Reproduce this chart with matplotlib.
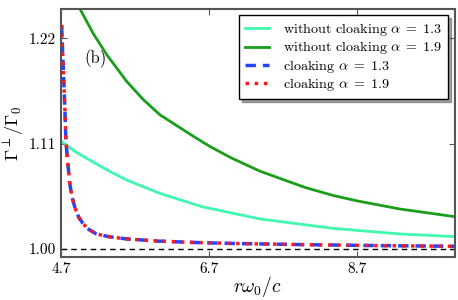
import matplotlib
matplotlib.use("Agg")
import matplotlib.pyplot as plt

matplotlib.rcParams['font.family'] = 'serif'
matplotlib.rcParams['font.serif'] = ['cmr10', 'DejaVu Serif']
matplotlib.rcParams['mathtext.fontset'] = 'cm'
matplotlib.rcParams['axes.formatter.use_mathtext'] = True

# values
x_a13 = [4.7, 4.9, 5.137, 5.35, 5.588, 6.038, 6.6, 7.389, 8.38, 9.28, 10.02]
y_a13 = [1.1125, 1.1012, 1.0905, 1.0812, 1.0718, 1.0578, 1.044, 1.0311, 1.0212, 1.0154, 1.0126]

x_a19 = [4.7, 4.966, 5.137, 5.318, 5.588, 5.812, 6.038, 6.5, 6.71, 7.0, 7.39,
         8.0, 8.38, 8.7, 9.28, 10.02]
y_a19 = [1.29, 1.2495, 1.225, 1.203, 1.175, 1.156, 1.140, 1.117, 1.107, 1.095, 1.081,
         1.064, 1.0556, 1.050, 1.0415, 1.0335]

x_cl = [4.709, 4.731, 4.754, 4.768, 4.795, 4.82, 4.85, 4.889, 4.94, 5.0, 5.08, 5.18,
        5.35, 5.588, 6.0, 6.5, 7.0, 8.0, 9.0, 10.02]
y_cl13 = [1.234, 1.190, 1.145, 1.112, 1.088, 1.068, 1.054, 1.043, 1.033, 1.026, 1.020,
          1.0154, 1.0125, 1.0102, 1.008, 1.0065, 1.0055, 1.0042, 1.0032, 1.0025]
y_cl19 = [1.234, 1.190, 1.145, 1.112, 1.088, 1.068, 1.054, 1.043, 1.033, 1.026, 1.020,
          1.0154, 1.0125, 1.0102, 1.008, 1.0065, 1.0055, 1.0042, 1.0032, 1.0025]

xticks = [4.7, 6.7, 8.7]
yticks = [1.00, 1.11, 1.22]

fig = plt.figure(figsize=(4.58, 3.0), dpi=100)
ax = fig.add_axes([0.133, 0.143, 0.86, 0.827])

ax.axhline(1.0, color='black', lw=1.0, ls='--', dashes=(4, 3))
ax.plot(x_a13, y_a13, color='#40F8B0', lw=2, label=r'without cloaking $\alpha\;=\;1.3$')
ax.plot(x_a19, y_a19, color='#1A9E1A', lw=2, label=r'without cloaking $\alpha\;=\;1.9$')
ax.plot(x_cl, y_cl13, color='#2244FF', lw=2.5, ls='--', dashes=(3, 2),
        label=r'cloaking $\alpha\;=\;1.3$')
ax.plot(x_cl, y_cl19, color='#FF1A1A', lw=2.5, ls=':', label=r'cloaking $\alpha\;=\;1.9$')

ax.set_xlim(4.7, 10.02)
ax.set_ylim(0.9912, 1.2507)
ax.set_xticks(xticks)
ax.set_xticklabels(['4.7', '6.7', '8.7'])
ax.set_yticks(yticks)
ax.set_yticklabels(['1.00', '1.11', '1.22'])
ax.tick_params(direction='in', top=True, right=True, length=4, labelsize=11,
               color='#555555')
for s in ax.spines.values():
    s.set_color('#555555')
    s.set_linewidth(1.5)

ax.set_xlabel(r'$r\omega_0/c$', fontsize=14, labelpad=-1)
ax.set_ylabel(r'$\Gamma^{\perp}/\Gamma_0$', fontsize=13, labelpad=2)
ax.text(5.02, 1.199, '(b)', fontsize=12, va='center')

leg = ax.legend(loc='upper right', fontsize=10.2, shadow=True, fancybox=False,
                edgecolor='black', framealpha=1, handlelength=1.7,
                handletextpad=1.0, labelspacing=0.1, borderaxespad=0.45)
leg.get_frame().set_linewidth(1.0)

plt.savefig('out.png', dpi=100)
